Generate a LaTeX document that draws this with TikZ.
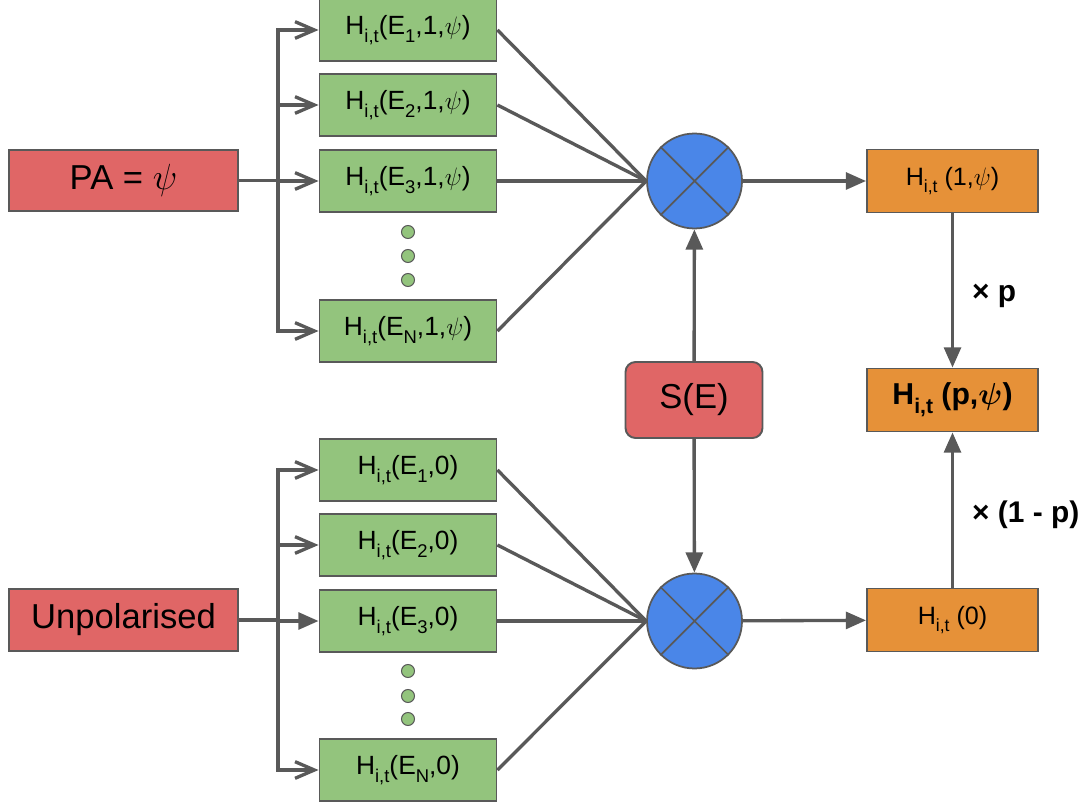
\documentclass[tikz,border=0pt]{standalone}
\usepackage{amsmath}
\usepackage{fontspec}
\setmainfont{Liberation Sans}
\usepackage{tikz}
\usetikzlibrary{arrows.meta}
\usepackage{xcolor}

\definecolor{boxred}{HTML}{E06666}
\definecolor{boxgreen}{HTML}{93C47D}
\definecolor{boxorange}{HTML}{E69138}
\definecolor{mulblue}{HTML}{4A86E8}
\definecolor{linegray}{HTML}{595959}

\newcommand{\lowsub}[1]{\raisebox{-0.55ex}{\scalebox{0.7}{#1}}}
\newcommand{\Hit}{H\lowsub{i,t}}

\begin{document}
\begin{tikzpicture}[x=0.02cm, y=-0.02cm,
  box/.style={draw=linegray, line width=1.1pt, inner sep=0pt, minimum height=1.23cm},
  inbox/.style={box, fill=boxred, minimum width=4.58cm, font=\fontsize{19.7}{23}\selectfont},
  ebox/.style={box, fill=boxgreen, minimum width=3.54cm, font=\fontsize{15}{18}\selectfont},
  outbox/.style={box, fill=boxorange, minimum width=3.42cm, minimum height=1.26cm, font=\fontsize{14.3}{17}\selectfont},
  mul/.style={circle, draw=linegray, line width=1pt, fill=mulblue, minimum size=1.9cm, inner sep=0pt},
  link/.style={draw=linegray, line width=1.9pt},
  fillarrow/.style={link, -{Triangle[length=11.5pt,width=9.6pt]}},
  openarrow/.style={link, -{Straight Barb[length=11pt,width=9.5pt]}},
  dot/.style={draw=linegray, line width=0.6pt, fill=boxgreen},
  factor/.style={inner sep=0pt, font=\fontsize{17}{20}\selectfont\bfseries}
]

\useasboundingbox (0,0) rectangle (1081,807);

% polarised branch
\node[inbox] (pa) at (123.5,180.5) {PA = $\psi$};

\node[ebox] (pg1) at (408,30) {\Hit(E\lowsub{1},1,$\psi$)};
\node[ebox] (pg2) at (408,105) {\Hit(E\lowsub{2},1,$\psi$)};
\node[ebox] (pg3) at (408,181) {\Hit(E\lowsub{3},1,$\psi$)};
\node[ebox] (pgN) at (408,331) {\Hit(E\lowsub{N},1,$\psi$)};

\foreach \y in {232,256,280}
\draw[dot] (408,\y) circle [radius=0.13cm];

\coordinate (pfork) at (278,180.5);
\draw[link] (pa.east) -- (pfork);
\draw[link, line cap=rect] (pfork |- pg1) -- (pfork |- pgN);
\foreach \k in {1,2,3,N}
\draw[openarrow] (pfork |- pg\k) -- (pg\k.west);

\node[mul] (mulA) at (694.5,181) {};
\draw[linegray, line width=1pt] (mulA.45) -- (mulA.225) (mulA.135) -- (mulA.-45);

\foreach \k in {1,2,3,N}
\draw[link] (pg\k.east) -- (mulA.west);


% unpolarised branch
\node[inbox] (unp) at (123.5,620) {Unpolarised};

\node[ebox] (ug1) at (408,470) {\Hit(E\lowsub{1},0)};
\node[ebox] (ug2) at (408,545) {\Hit(E\lowsub{2},0)};
\node[ebox] (ug3) at (408,621) {\Hit(E\lowsub{3},0)};
\node[ebox] (ugN) at (408,770) {\Hit(E\lowsub{N},0)};

\foreach \y in {671,696,719}
\draw[dot] (408,\y) circle [radius=0.13cm];

\coordinate (ufork) at (278,620);
\draw[link] (unp.east) -- (ufork);
\draw[link, line cap=rect] (ufork |- ug1) -- (ufork |- ugN);
\foreach \k in {1,2,N}
\draw[openarrow] (ufork |- ug\k) -- (ug\k.west);
\draw[fillarrow] (ufork |- ug3) -- (ug3.west);

\node[mul] (mulB) at (694.5,621) {};
\draw[linegray, line width=1pt] (mulB.45) -- (mulB.225) (mulB.135) -- (mulB.-45);

\foreach \k in {1,2,3,N}
\draw[link] (ug\k.east) -- (mulB.west);


% spectrum
\node[box, fill=boxred, rounded corners=0.2cm, minimum width=2.74cm, minimum height=1.52cm,
      font=\fontsize{19.7}{23}\selectfont] (se) at (694,400) {S(E)};

\draw[fillarrow] (se) -- (mulA);
\draw[fillarrow] (se) -- (mulB);


% outputs
\node[outbox] (hA) at (952.5,181) {\Hit\ (1,$\psi$)};
\node[outbox, font=\fontsize{17.2}{20}\selectfont\bfseries] (hP) at (952.5,400)
{H\lowsub{i,t} (p,$\boldsymbol{\psi}$)};
\node[outbox] (hB) at (952.5,620) {\Hit\ (0)};

\draw[fillarrow] (mulA) -- (hA);
\draw[fillarrow] (mulB) -- (hB);

\draw[fillarrow] (hA) -- (hP) node[factor, midway, right=0.36cm, yshift=-0.1cm] (xp) {× p};
\draw[fillarrow] (hB) -- (hP) node[factor, pos=0.47, right=0.36cm] (xq) {× (1 - p)};

\end{tikzpicture}
\end{document}
